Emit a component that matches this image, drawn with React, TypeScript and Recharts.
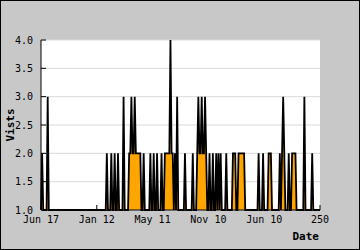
import React from 'react';
import { AreaChart, Area, XAxis, YAxis, CartesianGrid } from 'recharts';

// visits per day (index = day on the x axis)
const visits = [
  1, 2, 1, 1, 1, 1, 3, 1, 1, 1,
  1, 1, 1, 1, 1, 1, 1, 1, 1, 1,
  1, 1, 1, 1, 1, 1, 1, 1, 1, 1,
  1, 1, 1, 1, 1, 1, 1, 1, 1, 1,
  1, 1, 1, 1, 1, 1, 1, 1, 1, 1,
  1, 1, 1, 1, 1, 1, 1, 1, 1, 2,
  1, 1, 1, 2, 1, 1, 2, 1, 1, 2,
  1, 1, 1, 1, 3, 1, 1, 1, 1, 2,
  2, 3, 2, 2, 3, 2, 2, 2, 2, 2,
  1, 1, 2, 1, 1, 1, 1, 1, 2, 1,
  1, 2, 1, 1, 2, 1, 1, 1, 2, 1,
  1, 2, 2, 2, 2, 2, 4, 2, 2, 1,
  2, 1, 3, 1, 1, 1, 1, 1, 1, 2,
  1, 1, 1, 1, 1, 1, 2, 1, 1, 1,
  2, 3, 2, 2, 3, 2, 2, 3, 2, 1,
  1, 2, 1, 1, 2, 1, 1, 2, 1, 2,
  1, 2, 1, 1, 1, 1, 2, 1, 1, 1,
  1, 1, 2, 2, 2, 1, 1, 2, 2, 2,
  2, 2, 2, 1, 1, 1, 1, 1, 1, 1,
  1, 1, 1, 1, 1, 2, 1, 1, 1, 2,
  1, 1, 1, 1, 2, 2, 2, 1, 1, 1,
  1, 1, 1, 1, 2, 1, 2, 3, 2, 1,
  1, 1, 2, 1, 1, 2, 2, 2, 2, 1,
  1, 1, 1, 1, 1, 1, 3, 1, 1, 1,
  1, 1, 1, 2, 1, 1, 1, 1, 1, 1,
  1,
];

const xTicks = [0, 50, 100, 150, 200, 250];
const xLabels = ['Jun 17', 'Jan 12', 'May 11', 'Nov 10', 'Jun 10', '250'];
const yTicks = [1, 1.5, 2, 2.5, 3, 3.5, 4];
const yMinorTicks = [
  1.1, 1.2, 1.3, 1.4, 1.6, 1.7, 1.8, 1.9, 2.1, 2.2, 2.3, 2.4, 2.6, 2.7, 2.8, 2.9,
  3.1, 3.2, 3.3, 3.4, 3.6, 3.7, 3.8, 3.9,
];

const data = visits.map((v, i) => ({ day: i, visits: v }));

const font = '"DejaVu Sans Mono", monospace';

export default function App() {
  return (
    <div
      style={{
        position: 'absolute',
        left: 0,
        top: 0,
        width: 360,
        height: 250,
        background: '#c8c8c8',
        border: '1px solid #000',
        boxSizing: 'border-box',
      }}
    >
      <AreaChart
        width={360}
        height={250}
        data={data}
        margin={{ top: 40, right: 40, bottom: 0, left: 0 }}
        style={{ position: 'absolute', left: -1, top: -1 }}
      >
        <CartesianGrid vertical={false} stroke="#d9d9d9" fill="#ffffff" fillOpacity={1} />
        <XAxis
          dataKey="day"
          type="number"
          domain={[0, 250]}
          ticks={xTicks}
          interval={0}
          tickFormatter={(v, i) => xLabels[i]}
          height={40}
          tickSize={-5}
          tickMargin={11}
          axisLine={{ stroke: '#000' }}
          tickLine={{ stroke: '#000' }}
          tick={{ fill: '#000', fontSize: 10, fontFamily: font }}
          label={{
            content: ({ viewBox }: any) => (
              <text
                x={viewBox.x + viewBox.width - 1}
                y={viewBox.y + 30}
                textAnchor="end"
                fontFamily={font}
                fontSize={11}
                fontWeight="bold"
                fill="#000"
              >
                Date
              </text>
            ),
          }}
        />
        <YAxis
          domain={[1, 4]}
          ticks={yTicks}
          interval={0}
          width={41}
          tickFormatter={(v) => v.toFixed(1)}
          tickSize={-5}
          tickMargin={13}
          axisLine={{ stroke: '#000' }}
          tickLine={{ stroke: '#000' }}
          tick={{ fill: '#000', fontSize: 10, fontFamily: font }}
          label={{
            content: ({ viewBox }: any) => {
              const cx = viewBox.x + 10;
              const cy = viewBox.y + viewBox.height / 2;
              return (
                <text
                  x={cx}
                  y={cy}
                  transform={`rotate(-90 ${cx} ${cy})`}
                  textAnchor="middle"
                  dominantBaseline="central"
                  fontFamily={font}
                  fontSize={11}
                  fontWeight="bold"
                  fill="#000"
                >
                  Vists
                </text>
              );
            },
          }}
        />
        <YAxis
          yAxisId="minor"
          domain={[1, 4]}
          ticks={yMinorTicks}
          interval={0}
          width={0}
          tickSize={-3}
          axisLine={false}
          tickLine={{ stroke: '#000' }}
          tick={false}
        />
        <Area
          type="linear"
          dataKey="visits"
          stroke="#000"
          strokeWidth={1.8}
          fill="#ffa500"
          fillOpacity={1}
          dot={false}
          activeDot={false}
          isAnimationActive={false}
        />
      </AreaChart>
    </div>
  );
}
